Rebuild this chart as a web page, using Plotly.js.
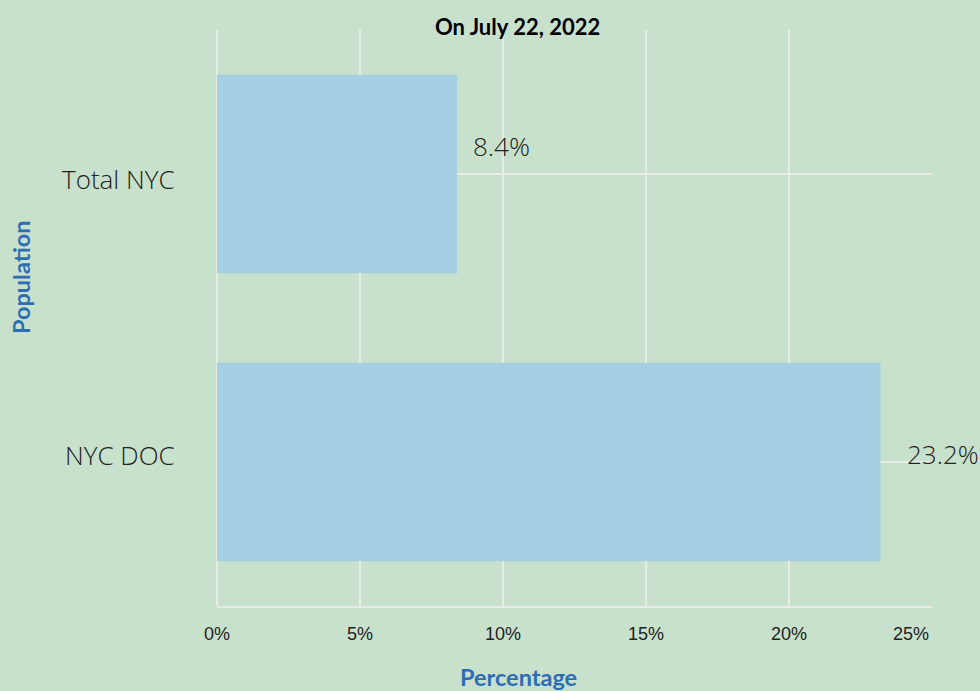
<!DOCTYPE html>
<html>
<head>
<meta charset="utf-8">
<script src="https://cdn.plot.ly/plotly-3.0.1.min.js"></script>
<style>html,body{margin:0;padding:0;background:#c8e1cc;}#chart{width:980px;height:691px;}</style>
</head>
<body>
<div id="chart"></div>
<script>
const categories = ['Total NYC', 'NYC DOC'];
const percentages = [8.4, 23.2];
const valueLabels = ['8.4%', '23.2%'];
const tickValues = [0, 5, 10, 15, 20, 25];
const tickLabels = ['0%', '5%', '10%', '15%', '20%', '25%'];

const lightFont = {family: 'Open Sans', size: 26, color: '#222', weight: 300};
const labelShift = [{x: 14, y: 28}, {x: 24, y: 8}];
const categoryShift = [-5, 7];

const trace = {
  type: 'bar',
  orientation: 'h',
  y: categories,
  x: percentages,
  marker: {color: '#a7cfe4'},
  hoverinfo: 'none'
};

const annotations = categories.map((c, i) => ({
  x: percentages[i], y: c, xref: 'x', yref: 'y',
  text: valueLabels[i], showarrow: false,
  xanchor: 'left', yanchor: 'middle',
  xshift: labelShift[i].x, yshift: labelShift[i].y,
  font: lightFont
}));

// category labels
categories.forEach((c, i) => {
  annotations.push({
    xref: 'paper', x: 0, xshift: -40, yref: 'y', y: c, yshift: categoryShift[i],
    text: c, showarrow: false, xanchor: 'right', yanchor: 'middle',
    font: lightFont
  });
});

// x tick labels (last one kept inside the frame, as in the original)
tickValues.forEach((v, i) => {
  const last = i === tickValues.length - 1;
  annotations.push({
    x: v, xref: 'x', yref: 'paper', y: 0, yshift: -28,
    text: tickLabels[i], showarrow: false,
    xanchor: last ? 'right' : 'center', yanchor: 'middle',
    xshift: last ? -1 : 0,
    font: {family: 'Liberation Sans', size: 18, color: '#222'}
  });
});

annotations.push({
  xref: 'paper', yref: 'paper', x: (517 - 217) / 715, y: 1, yshift: 4,
  text: '<b>On July 22, 2022</b>', showarrow: false,
  xanchor: 'center', yanchor: 'middle',
  font: {family: 'Lato', size: 22, color: '#000'}
});
annotations.push({
  xref: 'paper', yref: 'paper', x: (518 - 217) / 715, y: 0, yshift: -71,
  text: '<b>Percentage</b>', showarrow: false,
  xanchor: 'center', yanchor: 'middle',
  font: {family: 'Lato', size: 23.5, color: '#2f6db3'}
});
annotations.push({
  xref: 'paper', yref: 'paper', x: 0, xshift: -196, y: (606 - 277) / 576,
  text: '<b>Population</b>', showarrow: false, textangle: -90,
  xanchor: 'center', yanchor: 'middle',
  font: {family: 'Lato', size: 23.5, color: '#2f6db3'}
});

const layout = {
  width: 980, height: 691,
  paper_bgcolor: '#c8e1cc', plot_bgcolor: '#c8e1cc',
  margin: {l: 217, r: 48, t: 30, b: 85},
  showlegend: false,
  bargap: 0.31,
  xaxis: {
    range: [0, 25], tickvals: tickValues, showticklabels: false,
    showgrid: true, gridcolor: '#e9ebe6', gridwidth: 2,
    zeroline: true, zerolinecolor: '#e9ebe6', zerolinewidth: 2,
    showline: true, linecolor: '#e9ebe6', linewidth: 2,
    ticks: '',
    fixedrange: true
  },
  yaxis: {
    autorange: 'reversed',
    showgrid: true, gridcolor: '#e9ebe6', gridwidth: 2,
    showline: false, zeroline: false, showticklabels: false, ticks: '',
    fixedrange: true
  },
  annotations: annotations
};

Plotly.newPlot('chart', [trace], layout, {displayModeBar: false, staticPlot: true});
</script>
</body>
</html>
